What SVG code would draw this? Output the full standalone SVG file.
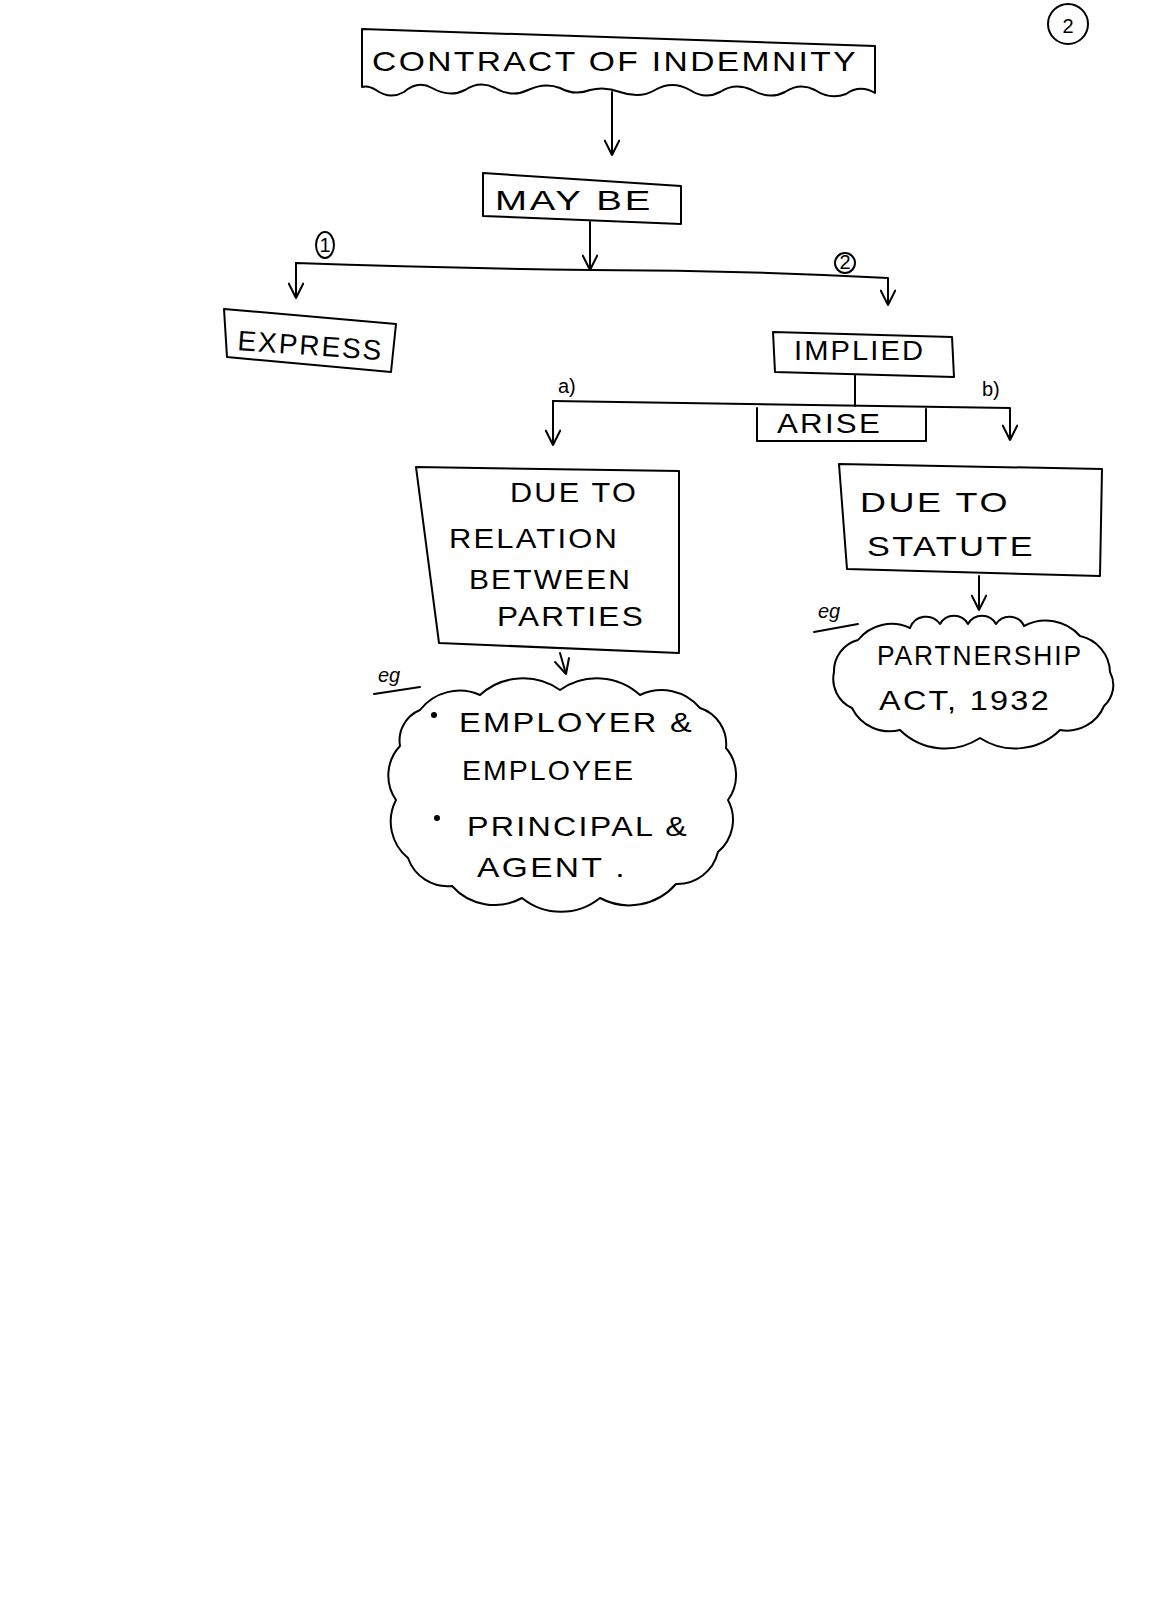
<svg xmlns="http://www.w3.org/2000/svg" width="1162" height="1600" viewBox="0 0 1162 1600">
<style>
.s{fill:none;stroke:#000;stroke-width:2;stroke-linecap:round;stroke-linejoin:round}
.t{font-family:"Liberation Sans",Arial,sans-serif;font-size:28px;fill:#000;letter-spacing:2px}
.sm{font-family:"Liberation Sans",Arial,sans-serif;font-size:20px;fill:#000}
</style>
<defs>
<marker id="ar" viewBox="0 0 10 10" refX="10" refY="5" markerUnits="userSpaceOnUse" markerWidth="16" markerHeight="16" orient="auto">
<path d="M1,0.5 L10,5 L1,9.5" fill="none" stroke="#000" stroke-width="1.3" stroke-linecap="round" stroke-linejoin="round"/>
</marker>
</defs>
<rect width="1162" height="1600" fill="#fff"/>

<g id="page-number">
<circle cx="1068" cy="24" r="20" class="s"/>
<text x="1068" y="33" class="sm" text-anchor="middle" font-size="24">2</text>
</g>

<g id="contract">
<path class="s" d="M362,29 L875,46 L875,93 Q860,84 846,94 Q830,100 815,90 Q800,82 785,92 Q770,100 752,90 Q735,82 720,92 Q705,100 690,90 Q672,80 655,90 Q640,99 620,92 Q605,86 590,90 Q575,96 560,88 Q545,82 528,90 Q512,98 495,88 Q480,80 465,90 Q450,98 432,88 Q418,80 404,92 Q390,100 376,90 Q368,85 362,87 Z"/>
<text x="372" y="71" class="t" font-size="30" textLength="486" lengthAdjust="spacingAndGlyphs">CONTRACT OF INDEMNITY</text>
</g>

<g id="may-be">
<path class="s" d="M483,173 L681,186 L681,224 L483,216 Z"/>
<text x="495" y="210" class="t" font-size="30" textLength="158" lengthAdjust="spacingAndGlyphs">MAY BE</text>
</g>

<g id="express">
<path class="s" d="M224,309 L396,324 L391,372 L227,357 Z"/>
<text x="237" y="350" class="t" textLength="146" lengthAdjust="spacingAndGlyphs" transform="rotate(4 237 350)">EXPRESS</text>
</g>

<g id="implied">
<path class="s" d="M773,332 L952,337 L954,377 L775,372 Z"/>
<text x="794" y="360" class="t" textLength="131" lengthAdjust="spacingAndGlyphs">IMPLIED</text>
</g>

<g id="arise">
<path class="s" d="M757,408 L757,441 L926,441 L926,409"/>
<text x="777" y="433" class="t" font-size="26" textLength="105" lengthAdjust="spacingAndGlyphs">ARISE</text>
</g>

<g id="relation">
<path class="s" d="M416,467 L679,471 L679,653 L439,643 Z"/>
<text x="510" y="502" class="t" textLength="128" lengthAdjust="spacingAndGlyphs">DUE TO</text>
<text x="449" y="548" class="t" textLength="170" lengthAdjust="spacingAndGlyphs">RELATION</text>
<text x="469" y="589" class="t" textLength="163" lengthAdjust="spacingAndGlyphs">BETWEEN</text>
<text x="497" y="626" class="t" textLength="148" lengthAdjust="spacingAndGlyphs">PARTIES</text>
</g>

<g id="statute">
<path class="s" d="M839,464 L1102,469 L1100,576 L847,569 Z"/>
<text x="860" y="512" class="t" textLength="150" lengthAdjust="spacingAndGlyphs">DUE TO</text>
<text x="867" y="556" class="t" textLength="168" lengthAdjust="spacingAndGlyphs">STATUTE</text>
</g>

<g id="examples-relation">
<text x="378" y="682" class="sm" font-style="italic">eg</text>
<path class="s" d="M374,694 L420,687"/>
<path class="s" d="M420,710 A50,50 0 0 1 480,695 A64,64 0 0 1 560,690 A64,64 0 0 1 640,695 A50,50 0 0 1 700,708 A38,38 0 0 1 726,748 A42,42 0 0 1 728,800 A42,42 0 0 1 718,852 A42,42 0 0 1 676,884 A62,62 0 0 1 600,898 A62,62 0 0 1 522,898 A57,57 0 0 1 452,886 A42,42 0 0 1 408,858 A47,47 0 0 1 396,800 A43,43 0 0 1 400,746 A33,33 0 0 1 420,710 Z"/>
<circle cx="434" cy="715" r="3" fill="#000"/>
<text x="459" y="732" class="t" textLength="235" lengthAdjust="spacingAndGlyphs">EMPLOYER &amp;</text>
<text x="462" y="780" class="t" textLength="173" lengthAdjust="spacingAndGlyphs">EMPLOYEE</text>
<circle cx="437" cy="818" r="3" fill="#000"/>
<text x="467" y="836" class="t" textLength="222" lengthAdjust="spacingAndGlyphs">PRINCIPAL &amp;</text>
<text x="477" y="877" class="t" textLength="150" lengthAdjust="spacingAndGlyphs">AGENT .</text>
</g>

<g id="examples-statute">
<text x="818" y="618" class="sm" font-style="italic">eg</text>
<path class="s" d="M814,632 L858,624"/>
<path class="s" d="M834,672 A32,32 0 0 1 858,640 A43,43 0 0 1 910,628 A17,17 0 0 1 940,624 A16,16 0 0 1 968,624 A16,16 0 0 1 996,624 A16,16 0 0 1 1024,626 A46,46 0 0 1 1080,636 A38,38 0 0 1 1110,672 A28,28 0 0 1 1104,706 A40,40 0 0 1 1060,730 A64,64 0 0 1 980,738 A64,64 0 0 1 900,730 A42,42 0 0 1 852,708 A32,32 0 0 1 834,672 Z"/>
<text x="877" y="665" class="t" textLength="206" lengthAdjust="spacingAndGlyphs">PARTNERSHIP</text>
<text x="879" y="710" class="t" textLength="172" lengthAdjust="spacingAndGlyphs">ACT, 1932</text>
</g>

<g id="labels">
<ellipse cx="325" cy="245" rx="9" ry="13" class="s"/>
<text x="325" y="252" class="sm" font-size="17" text-anchor="middle">1</text>
<circle cx="845" cy="263" r="10" class="s"/>
<text x="845" y="269" class="sm" font-size="15" text-anchor="middle">2</text>
<text x="558" y="393" class="sm" font-size="24">a)</text>
<text x="982" y="396" class="sm" font-size="24">b)</text>
</g>

<g id="connectors">
<path class="s" d="M612,92 L612,155" marker-end="url(#ar)"/>
<path class="s" d="M590,222 L590,270" marker-end="url(#ar)"/>
<path class="s" d="M296,296 L296,263 Q440,268 590,270 Q740,270 888,278 L888,305" marker-end="url(#ar)"/>
<path class="s" d="M296,263 L296,298" marker-end="url(#ar)"/>
<path class="s" d="M855,375 L855,406"/>
<path class="s" d="M553,401 Q780,404 1010,408 L1010,440" marker-end="url(#ar)"/>
<path class="s" d="M553,401 L553,445" marker-end="url(#ar)"/>
<path class="s" d="M560,653 L566,674" marker-end="url(#ar)"/>
<path class="s" d="M979,576 L979,610" marker-end="url(#ar)"/>
</g>
</svg>
